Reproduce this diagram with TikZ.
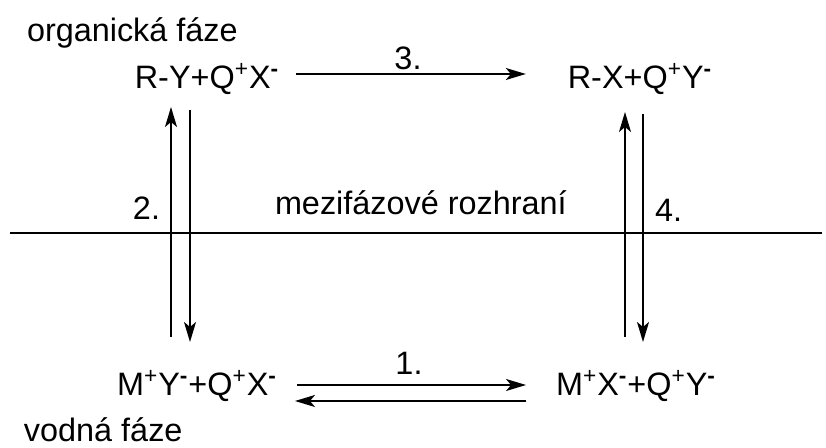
\documentclass[tikz,border=0pt]{standalone}
\usepackage{fontspec}
\setmainfont{Liberation Sans}
\usetikzlibrary{arrows.meta, positioning}
\tikzset{
  % one pixel of the layout is half a point
  every picture/.append style = {x=0.5pt, y=-0.5pt, line width=0.8pt},
  rxn/.style     = {-{Stealth[length=10pt, width=6pt, inset=2.5pt]}, line width=0.8pt},
  species/.style = {font=\fontsize{16.2}{19}\selectfont, inner sep=0pt, outer sep=0pt, anchor=base},
  lbl/.style     = {font=\fontsize{16.2}{19}\selectfont, inner sep=0pt, outer sep=0pt},
  iface/.style   = {line width=1pt},
}
\newcommand{\pl}{\textsuperscript{+}}
\newcommand{\mi}{\textsuperscript{\textbf{-}}}

\begin{document}
\begin{tikzpicture}
  \useasboundingbox (0,0) rectangle (826,448);
  % phases
  \node[lbl, anchor=base west] (orgph) at (27,42) {organická fáze};
  \node[lbl, anchor=base west] (aqph) at (24,442) {vodná fáze};
  % species
  \node[species] (ryqx) at (207,89) {R-Y+Q\pl X\mi};
  \node[species] (rxqy) at (640,89) {R-X+Q\pl Y\mi};
  \node[species] (myqx) at (197,396) {M\pl Y\mi+Q\pl X\mi};
  \node[species] (mxqy) at (636,396) {M\pl X\mi+Q\pl Y\mi};
  % interface
  \coordinate (ifL) at (10,233);
  \coordinate (ifR) at (822,233);
  \draw[iface] (ifL) -- (ifR);
  \node[lbl, anchor=base west] (iftxt) at (275,215) {mezifázové rozhraní};
  % step 3
  \draw[rxn] ([xshift=8.5pt, yshift=7.5pt]ryqx.base east) -- ([xshift=-21pt, yshift=7.5pt]rxqy.base west);
  \node[lbl, anchor=base] (st3) at (408,70) {3.};
  % step 1, both ways
  \draw[rxn] ([xshift=10pt, yshift=5.5pt]myqx.base east) -- ([xshift=-15pt, yshift=5.5pt]mxqy.base west);
  \draw[rxn] ([xshift=-15pt, yshift=-2.5pt]mxqy.base west) -- ([xshift=9pt, yshift=-2.5pt]myqx.base east);
  \node[lbl, anchor=base] (st1) at (409,375) {1.};
  % step 2
  \draw[rxn] ([xshift=-13pt, yshift=29.5pt]myqx.base) -- ([xshift=-18pt, yshift=-9pt]ryqx.base);
  \draw[rxn] ([xshift=-8.5pt, yshift=-10.5pt]ryqx.base) -- ([xshift=-3.5pt, yshift=27pt]myqx.base);
  \node[lbl, anchor=base west] (st2) at (133,220) {2.};
  % step 4
  \draw[rxn] ([xshift=-5.5pt, yshift=29.5pt]mxqy.base) -- ([xshift=-7.5pt, yshift=-11.5pt]rxqy.base);
  \draw[rxn] ([xshift=1.5pt, yshift=-12.5pt]rxqy.base) -- ([xshift=3.5pt, yshift=27pt]mxqy.base);
  \node[lbl, anchor=base west] (st4) at (655,222) {4.};
\end{tikzpicture}
\end{document}
